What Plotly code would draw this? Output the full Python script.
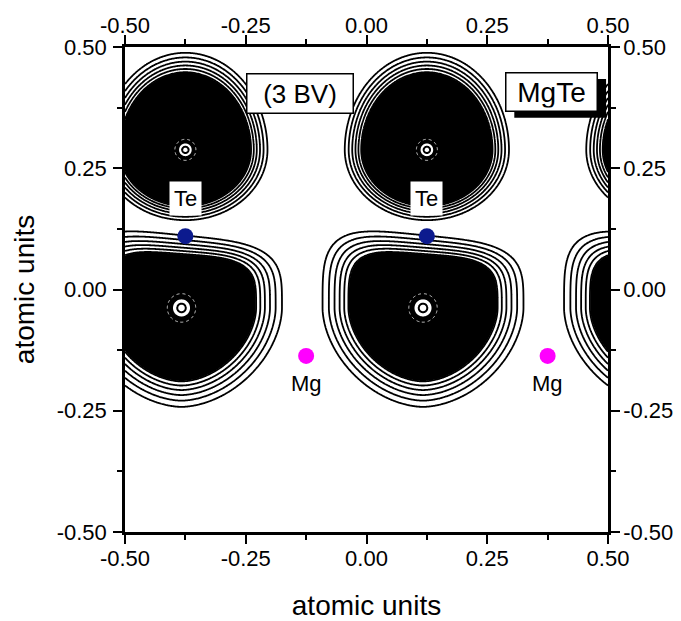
import numpy as np
import plotly.graph_objects as go

FONT = "Arial, Liberation Sans, sans-serif"

# Atomic sites in the plotted plane (atomic units)
te_x = [-0.375, 0.125]
te_y = [0.11, 0.11]
mg_x = [-0.125, 0.375]
mg_y = [-0.137, -0.137]

# Valence-charge lobes: centres and half-extents of the outermost contour
upper_cx = [-0.375, 0.125, 0.625]
upper_cy = 0.288
upper_ax = 0.17
upper_ay_up = 0.20
upper_ay_dn = 0.145
upper_falloff = 1.0

lower_cx = [-0.383, 0.117, 0.617]
lower_cy = -0.038
lower_ax = 0.208
lower_ay_up = 0.15
lower_ay_dn = 0.204
lower_tilt = -0.10       # top edge rises towards the left
lower_falloff = 0.75

# core (nucleus) ring radii for the two lobe families
upper_core = 0.0145
lower_core = 0.0196

# axis ticks
tick_vals = [-0.5, -0.25, 0.0, 0.25, 0.5]
tick_text = ["-0.50", "-0.25", "0.00", "0.25", "0.50"]
minor_vals = [-0.375, -0.125, 0.125, 0.375]

# ---------------------------------------------------------------- density field
g = np.linspace(-0.5, 0.5, 521)
X, Y = np.meshgrid(g, g)


def lobe_radius(cx, cy, ax, ay_up, ay_dn, p_up, p_dn, tilt=0.0):
    dx = np.abs(X - cx) / ax
    dy = Y - cy
    up = dy >= 0
    ay_top = ay_up + tilt * (X - cx)
    ny = np.where(up, dy / ay_top, -dy / ay_dn)
    p = np.where(up, p_up, p_dn)
    return (dx ** p + ny ** p) ** (1.0 / p)


F = np.zeros(X.shape)
for cx in upper_cx:
    r = lobe_radius(cx, upper_cy, upper_ax, upper_ay_up, upper_ay_dn, 2.0, 2.0)
    F = np.maximum(F, np.maximum(r, 1e-3) ** -upper_falloff)
for cx in lower_cx:
    r = lobe_radius(cx, lower_cy, lower_ax, lower_ay_up, lower_ay_dn, 4.0, 1.8, lower_tilt)
    F = np.maximum(F, np.maximum(r, 1e-3) ** -lower_falloff)
F = F.astype(np.float32)

fig = go.Figure()

# solid interior of the densely packed contours
fig.add_trace(go.Contour(
    x=g, y=g, z=F, showscale=False, hoverinfo="skip",
    contours=dict(type="constraint", operation="<", value=1.255),
    fillcolor="black", line=dict(width=0),
))

# separated outer contour lines
fig.add_trace(go.Contour(
    x=g, y=g, z=F, showscale=False, hoverinfo="skip",
    contours=dict(coloring="lines", start=1.0, end=1.255, size=0.05, showlabels=False),
    colorscale=[[0, "black"], [1, "black"]],
    line=dict(width=1.8),
))

# cores of the lobes
cores = [(cx, upper_cy, upper_core) for cx in upper_cx[:2]] + \
        [(cx, lower_cy, lower_core) for cx in lower_cx[:2]]
for cx, cy, rc in cores:
    lx = np.linspace(cx - 0.05, cx + 0.05, 141)
    ly = np.linspace(cy - 0.05, cy + 0.05, 141)
    LX, LY = np.meshgrid(lx, ly)
    G = (np.hypot(LX - cx, LY - cy) / rc).astype(np.float32)
    fig.add_trace(go.Contour(
        x=lx, y=ly, z=G, showscale=False, hoverinfo="skip",
        contours=dict(type="constraint", operation=">", value=0.9),
        fillcolor="white", line=dict(width=0),
    ))
    fig.add_trace(go.Contour(
        x=lx, y=ly, z=G, showscale=False, hoverinfo="skip",
        contours=dict(coloring="lines", start=0.45, end=0.45, size=1, showlabels=False),
        colorscale=[[0, "black"], [1, "black"]], line=dict(width=2),
    ))
    fig.add_trace(go.Contour(
        x=lx, y=ly, z=G, showscale=False, hoverinfo="skip",
        contours=dict(coloring="lines", start=1.5, end=1.5, size=1, showlabels=False),
        colorscale=[[0, "#dddddd"], [1, "#dddddd"]], line=dict(width=1, dash="dot"),
    ))

# atoms
fig.add_trace(go.Scatter(x=te_x, y=te_y, mode="markers", hoverinfo="skip",
                         marker=dict(size=16, color="#0c1a8e"), showlegend=False))
fig.add_trace(go.Scatter(x=mg_x, y=mg_y, mode="markers", hoverinfo="skip",
                         marker=dict(size=16, color="#ff00ff"), showlegend=False))
# companion trace for the top / right axes
fig.add_trace(go.Scatter(x=[None], y=[None], xaxis="x2", yaxis="y2",
                         mode="markers", showlegend=False, hoverinfo="skip"))

for x, y in zip(te_x, te_y):
    fig.add_annotation(x=x, y=y + 0.077, text="Te", showarrow=False,
                       font=dict(family=FONT, size=22, color="black"),
                       bgcolor="white", borderpad=4)
for x, y in zip(mg_x, mg_y):
    fig.add_annotation(x=x, y=y - 0.056, text="Mg", showarrow=False,
                       font=dict(family=FONT, size=22, color="black"))

fig.add_annotation(x=-0.137, y=0.405, text="(3 BV)", showarrow=False,
                   font=dict(family=FONT, size=26, color="black"),
                   bgcolor="white", bordercolor="black", borderwidth=1.5,
                   borderpad=3, width=99, height=32)

# drop shadow behind the compound label
fig.add_shape(type="rect", xref="x", yref="y", x0=0.306, x1=0.496, y0=0.354, y1=0.434,
              fillcolor="black", line=dict(width=0), layer="above")
fig.add_annotation(x=0.384, y=0.408, text="MgTe", showarrow=False,
                   font=dict(family=FONT, size=28, color="black"),
                   bgcolor="white", bordercolor="black", borderwidth=1.5,
                   borderpad=3, width=84, height=31)


def axis_style(**kw):
    d = dict(range=[-0.5, 0.5], tickmode="array", tickvals=tick_vals, ticktext=tick_text,
             ticks="outside", ticklen=9, tickwidth=2, tickcolor="black",
             showline=True, linewidth=2.5, linecolor="black",
             showgrid=False, zeroline=False, fixedrange=True, automargin=False,
             tickfont=dict(family=FONT, size=22, color="black"),
             minor=dict(tickmode="array", tickvals=minor_vals, ticks="outside",
                        ticklen=5, tickwidth=2, tickcolor="black", showgrid=False))
    d.update(kw)
    return d


fig.update_layout(
    width=681, height=621,
    margin=dict(l=125, r=73, t=47, b=89, autoexpand=False),
    paper_bgcolor="white", plot_bgcolor="white",
    showlegend=False,
    xaxis=axis_style(title=dict(text="atomic units", standoff=26,
                                font=dict(family=FONT, size=28, color="black")),
                     ticklabelstandoff=-4),
    yaxis=axis_style(title=dict(text="atomic units", standoff=14,
                                font=dict(family=FONT, size=28, color="black")),
                     ticklabelstandoff=2),
    xaxis2=axis_style(overlaying="x", side="top", ticklabelstandoff=-7),
    yaxis2=axis_style(overlaying="y", side="right", ticklabelstandoff=-1),
)

fig.write_html("out.html")
